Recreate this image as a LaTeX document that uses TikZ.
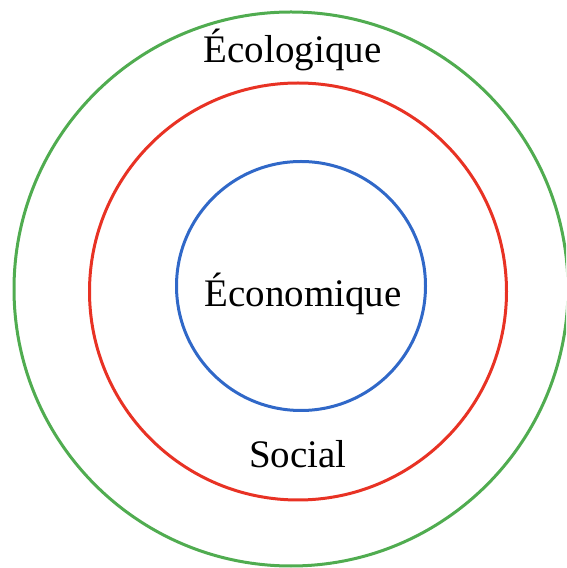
\documentclass[tikz,border=0pt]{standalone}
\usepackage{fontspec}
\setmainfont{Liberation Serif}
\definecolor{cgreen}{RGB}{80,172,80}
\definecolor{cred}{RGB}{232,50,36}
\definecolor{cblue}{RGB}{48,104,200}
\tikzset{ring/.style={line width=3pt},
  lbl/.style={anchor=base,inner sep=0pt,font=\fontsize{39}{44}\selectfont}}
\begin{document}
\begin{tikzpicture}[x=1pt,y=1pt]
\useasboundingbox (0,0) rectangle (566,568);
\clip (0,0) rectangle (566,568);
\draw[ring,cgreen] (291,279) circle[radius=277];
\draw[ring,cred] (298,276.5) circle[radius=208.5];
\draw[ring,cblue] (301,282) circle[radius=124.5];
\node[lbl] (eco) at (292.5,505) {Écologique};
\node[lbl] (econ) at (303,261.3) {Économique};
\node[lbl] (soc) at (298,100) {Social};
\end{tikzpicture}
\end{document}
